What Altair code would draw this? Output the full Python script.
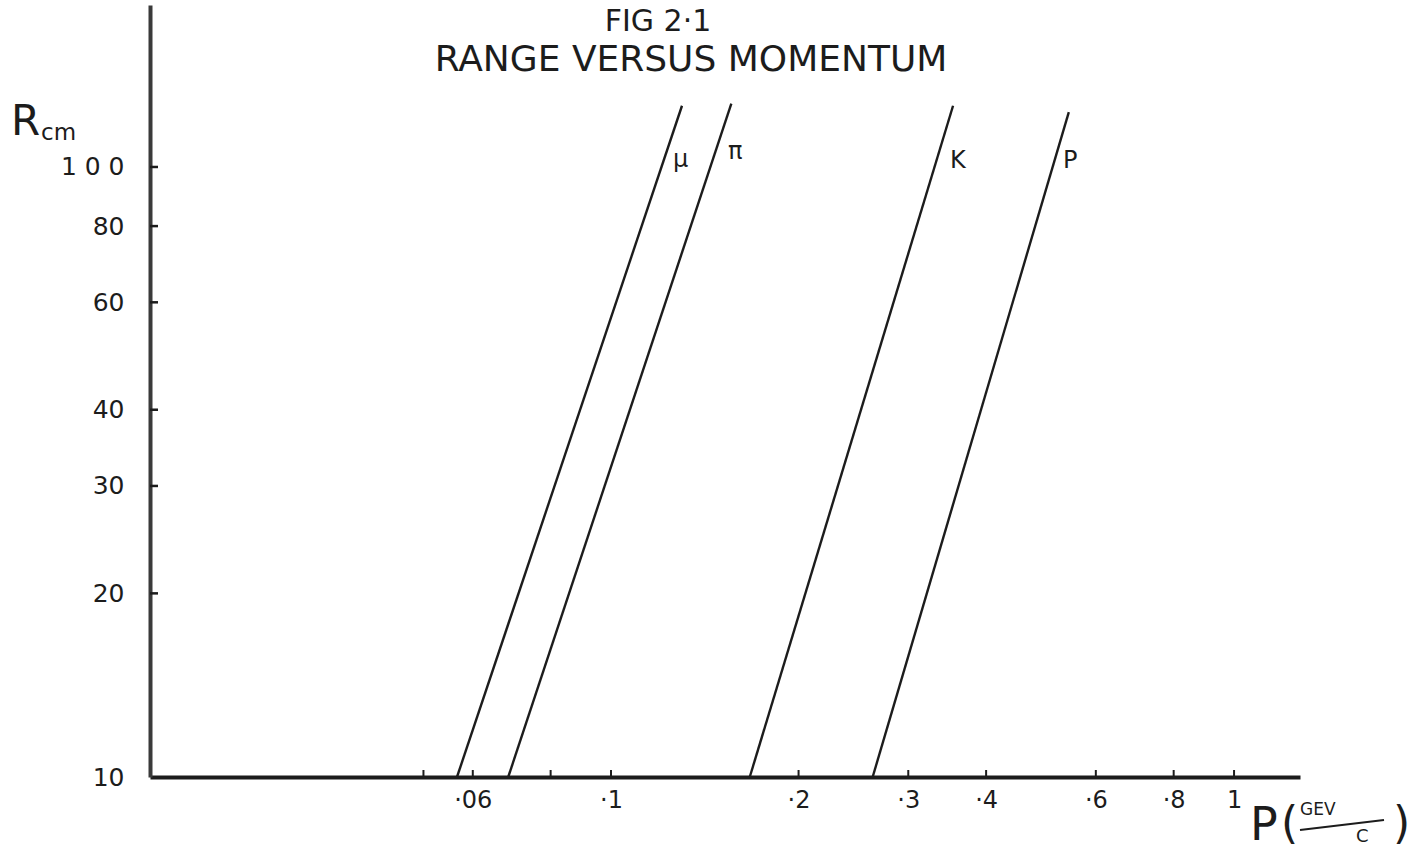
import altair as alt
import pandas as pd

# Range-momentum curves (log-log straight lines), endpoints per particle
particles = ["μ", "π", "K", "P"]
p_low = [0.0566, 0.0684, 0.167, 0.263]
p_high = [0.130, 0.156, 0.354, 0.543]
r_low = [10, 10, 10, 10]
r_high = [126, 127, 126, 123]

# particle labels placed just right of each line's upper end
label_p = [0.1257, 0.1541, 0.3499, 0.5315]
label_r = [102.7, 106.0, 102.3, 102.3]

# axis ticks and labels
x_label_values = [0.06, 0.1, 0.2, 0.3, 0.4, 0.6, 0.8, 1]
x_tick_values = [0.05, 0.06, 0.08, 0.1, 0.2, 0.3, 0.4, 0.6, 0.8, 1]
y_values = [10, 20, 30, 40, 60, 80, 100]
y_tick_values = [20, 30, 40, 60, 80, 100]

X_DOMAIN = [0.0182, 1.276]
Y_DOMAIN = [10, 184.3]
W, H = 1150, 772
FONT = "DejaVu Sans"
INK = "#1c1c1c"

rows = []
for name, p0, p1, r0, r1 in zip(particles, p_low, p_high, r_low, r_high):
    rows.append({"particle": name, "p": p0, "r": r0})
    rows.append({"particle": name, "p": p1, "r": r1})
lines_df = pd.DataFrame(rows)
labels_df = pd.DataFrame({"particle": particles, "p": label_p, "r": label_r})

xs = alt.Scale(type="log", domain=X_DOMAIN, nice=False, zero=False)
ys = alt.Scale(type="log", domain=Y_DOMAIN, nice=False, zero=False)

x_axis = alt.Axis(
    values=x_label_values, title=None, ticks=False, tickSize=0, grid=False,
    domainColor=INK, domainWidth=4, labelFont=FONT, labelFontSize=24,
    labelColor=INK, labelPadding=11, labelOverlap=False, labelFlush=False,
    labelExpr="datum.value >= 1 ? '1' : replace(format(datum.value, '.2~f'), '0.', '·')",
)
y_axis = alt.Axis(
    values=y_values, title=None, ticks=False, tickSize=0, grid=False,
    domainColor="#3a3a3a", domainWidth=4, labelFont=FONT, labelFontSize=25,
    labelColor=INK, labelPadding=26, labelOverlap=False, labelFlush=False,
    labelExpr="datum.value == 100 ? '1 0 0' : datum.label",
)

curves = alt.Chart(lines_df).mark_line(color=INK, strokeWidth=2.4).encode(
    x=alt.X("p:Q", scale=xs, axis=x_axis),
    y=alt.Y("r:Q", scale=ys, axis=y_axis),
    detail="particle:N",
)

curve_labels = alt.Chart(labels_df).mark_text(
    align="left", baseline="middle", font=FONT, fontSize=24, color=INK
).encode(
    x=alt.X("p:Q", scale=xs), y=alt.Y("r:Q", scale=ys), text="particle:N"
)

# inward tick marks on both axes
x_ticks = alt.Chart(pd.DataFrame({"p": x_tick_values})).mark_rule(
    color=INK, strokeWidth=2
).encode(x=alt.X("p:Q", scale=xs), y=alt.value(H - 7), y2=alt.value(H))

y_ticks = alt.Chart(pd.DataFrame({"r": y_tick_values})).mark_rule(
    color=INK, strokeWidth=2.5
).encode(y=alt.Y("r:Q", scale=ys), x=alt.value(0), x2=alt.value(8))


def text(t, x, y, size, align="center", baseline="alphabetic"):
    return alt.Chart(pd.DataFrame({"t": [t]})).mark_text(
        align=align, baseline=baseline, font=FONT, fontSize=size, color=INK
    ).encode(text="t:N", x=alt.value(x), y=alt.value(y))


titles = [
    text("FIG 2·1", 508, 26, 30),
    text("RANGE VERSUS MOMENTUM", 541, 66, 36),
    # y axis title R_cm
    text("R", -139, 130, 42, align="left"),
    text("cm", -109, 135, 23, align="left"),
    # x axis title P(GEV/C)
    text("P", 1100, 835, 46, align="left"),
    text("(", 1131, 833, 44, align="left"),
    text("GEV", 1150, 810, 17, align="left"),
    text("C", 1206, 837, 18, align="left"),
    text(")", 1243, 833, 44, align="left"),
]

frac_bar = alt.Chart(pd.DataFrame({"k": [0]})).mark_rule(
    color=INK, strokeWidth=2
).encode(x=alt.value(1150), x2=alt.value(1234), y=alt.value(825), y2=alt.value(815))

chart = alt.layer(curves, curve_labels, x_ticks, y_ticks, frac_bar, *titles).properties(
    width=W, height=H,
    autosize=alt.AutoSizeParams(type="none"),
    padding={"left": 150, "top": 5, "right": 110, "bottom": 75},
    background="white",
).configure_view(stroke=None)

chart.save("out.html", embed_options={"renderer": "svg", "actions": False})
